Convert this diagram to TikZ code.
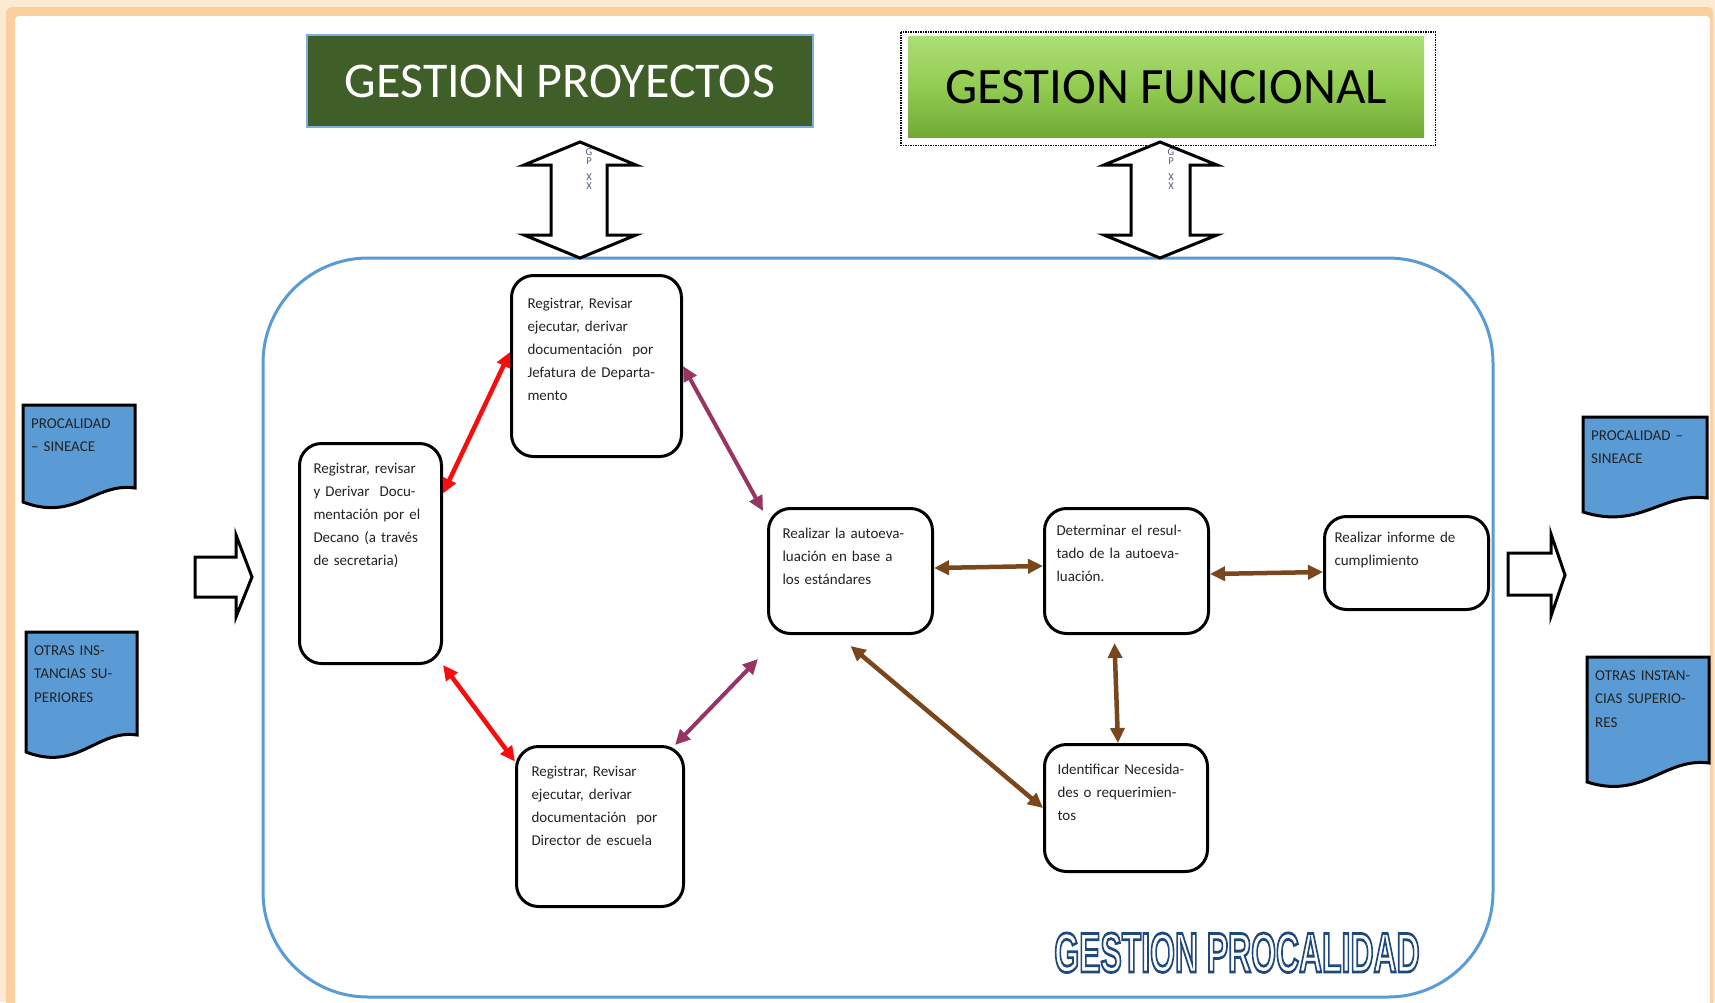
\documentclass[tikz,border=0pt]{standalone}
\usepackage{fontspec}
\setmainfont{Carlito}
\newfontfamily\outfont{Liberation Sans}
\usetikzlibrary{arrows.meta,positioning,calc}

\definecolor{framelight}{RGB}{253,234,210}
\definecolor{frameorange}{RGB}{251,207,158}
\definecolor{proygreen}{RGB}{63,94,40}
\definecolor{funcgreen}{RGB}{146,204,82}
\definecolor{funcdark}{RGB}{112,170,52}
\definecolor{funclight}{RGB}{172,222,118}
\definecolor{docblue}{RGB}{91,155,213}
\definecolor{edgeblue}{RGB}{91,155,213}
\definecolor{navy}{RGB}{31,73,125}
\definecolor{linkred}{RGB}{250,12,12}
\definecolor{linkpurple}{RGB}{150,52,100}
\definecolor{linkbrown}{RGB}{122,70,28}
\definecolor{inktext}{RGB}{35,35,35}

\begin{document}
\begin{tikzpicture}[x=1pt, y=-1pt, >={Triangle[length=15pt,width=14pt]},
  box/.style={draw, line width=3pt, rounded corners=22pt, fill=white, anchor=north west, align=left, text=inktext, inner ysep=10pt, font=\fontsize{15}{23}\selectfont},
  docshape/.style={draw, line width=3pt, fill=docblue},
  doctext/.style={anchor=base west, inner sep=0pt, align=left, text width=120pt, text=inktext, font=\fontsize{15}{23.5}\selectfont},
  bigarrow/.style={draw, line width=3pt, fill=white},
  gptag/.style={anchor=north, inner sep=0pt, align=center, text={rgb,255:red,80;green,90;blue,125}, font=\fontsize{10.5}{9}\selectfont},
  flow/.style={<->, line width=4.5pt},
  procaltext/.style={anchor=base, inner sep=0pt, text=white, font=\outfont\bfseries\fontsize{56}{56}\selectfont}]
\useasboundingbox (0,0) rectangle (1715,1002);
\clip (0,0) rectangle (1715,1002);
% marco
\fill[framelight] (0,0) rectangle (1715,1002);
\fill[frameorange, rounded corners=6pt] (6,7) rectangle (1713,1030);
\fill[white, rounded corners=4pt] (15,16) rectangle (1710,1030);

% cabeceras
\node[draw=edgeblue!80, line width=2pt, fill=proygreen, text=white, minimum width=506pt, minimum height=92pt, anchor=north west, font=\fontsize{50}{50}\selectfont] (gproy) at (306,34) {GESTION PROYECTOS};
\node[anchor=north west, minimum width=516pt, minimum height=101pt, inner sep=0pt, top color=funclight, bottom color=funcdark, middle color=funcgreen, font=\fontsize{51}{51}\selectfont] (gfunc) at (908,36) {GESTION FUNCIONAL};
\draw[densely dotted, line width=1.5pt] ([shift={(-7pt,4pt)}]gfunc.north west) rectangle ([shift={(11pt,-8pt)}]gfunc.south east);

% contenedor
\draw[edgeblue, line width=3pt, rounded corners=105pt] (263,258) rectangle (1493,997);

% flechas dobles
\draw[bigarrow] (580,142) -- (636,165) -- (607,165) -- (607,235) -- (636,235) -- (580,258) -- (524,235) -- (551,235) -- (551,165) -- (524,165) -- cycle;
\draw[bigarrow] (1160,142) -- (1217,165) -- (1190,165) -- (1190,235) -- (1217,235) -- (1160,258) -- (1104,235) -- (1131,235) -- (1131,165) -- (1104,165) -- cycle;
\node[gptag] (tagp) at (589,148) {G\\P\\[7pt]X\\X};
\node[gptag] (tagf) at (1171,148) {G\\P\\[7pt]X\\X};

% documentos
\draw[docshape] (23,405) -- (135,405) -- (135,488) .. controls (95,482) and (75,522) .. (23,502) -- cycle;
\node[doctext] (sineace1) at (31,428) {PROCALIDAD\\– SINEACE};
\draw[docshape] (26,632) -- (137,632) -- (137,735) .. controls (97,729) and (78,772) .. (26,752) -- cycle;
\node[doctext] (otras1) at (34,655) {OTRAS INS-\\TANCIAS SU-\\PERIORES};
\draw[docshape] (1583,417) -- (1707,417) -- (1707,498) .. controls (1662,492) and (1640,530) .. (1583,512) -- cycle;
\node[doctext] (sineace2) at (1591,440) {PROCALIDAD –\\SINEACE};
\draw[docshape] (1587,657) -- (1709,657) -- (1709,763) .. controls (1665,757) and (1643,800) .. (1587,782) -- cycle;
\node[doctext] (otras2) at (1595,680) {OTRAS INSTAN-\\CIAS SUPERIO-\\RES};

% entrada y salida
\draw[bigarrow] (195,557) -- (236,557) -- (236,535) -- (252,577) -- (236,617) -- (236,597) -- (195,597) -- cycle;
\draw[bigarrow] (1508,553) -- (1551,553) -- (1551,534) -- (1565,575) -- (1551,616) -- (1551,595) -- (1508,595) -- cycle;

% procesos
\node[box, text width=138pt, inner xsep=16pt, text height=23pt, text depth=138pt] (jefe) at (510,274) {Registrar, Revisar\\ejecutar, derivar\\documentación\ \ por\\Jefatura de Departa-\\mento};
\node[box, text width=114pt, inner xsep=14pt, text height=20pt, text depth=180pt] (decano) at (298,442) {Registrar, revisar\\y Derivar\ \ Docu-\\mentación por el\\Decano (a través\\de secretaria)};
\node[box, text width=137pt, inner xsep=15pt, text height=20pt, text depth=120pt] (director) at (515,745) {Registrar, Revisar\\ejecutar, derivar\\documentación\ \ por\\Director de escuela};
\node[box, text width=136pt, inner xsep=14pt, text height=20pt, text depth=85pt] (autoeval) at (767,507) {Realizar la autoeva-\\luación en base a\\los estándares};
\node[box, text width=140pt, inner xsep=12pt, text height=17pt, text depth=88pt] (determ) at (1043,507) {Determinar el resul-\\tado de la autoeva-\\luación.};
\node[box, text width=144pt, inner xsep=10pt, text height=16pt, text depth=57pt] (informe) at (1323,515) {Realizar informe de\\cumplimiento};
\node[box, text width=137pt, inner xsep=13pt, text height=20pt, text depth=87pt] (ident) at (1043,743) {Identificar Necesida-\\des o requerimien-\\tos};

% conexiones
\draw[flow, linkred] ([yshift=60pt]decano.east) -- ([yshift=14pt]jefe.west);
\draw[flow, linkred] (decano.south east) -- ([yshift=65pt]director.west);
\draw[flow, linkpurple, line width=4pt] (jefe.east) -- ([shift={(-4pt,-4pt)}]autoeval.north west);
\draw[flow, linkpurple, line width=4pt] ([xshift=-10pt]director.north east) -- ([shift={(-9pt,-24pt)}]autoeval.south west);
\draw[flow, linkbrown] ([yshift=3pt]autoeval.east) -- ([yshift=5pt]determ.west);
\draw[flow, linkbrown] ([yshift=-3pt]determ.east) -- ([yshift=-9pt]informe.west);
\draw[flow, linkbrown] ([shift={(-12pt,-8pt)}]determ.south) -- ([xshift=-8pt]ident.north);
\draw[flow, linkbrown] ([yshift=-11pt]autoeval.south) -- (ident.west);

% rotulo (texto con contorno)
\node[procaltext] (procal) at (1237,972) {\special{pdf:literal direct 2 Tr 2.8 w 0.122 0.286 0.490 RG}\scalebox{0.57}[1]{GESTION PROCALIDAD}\special{pdf:literal direct 0 Tr}};
\end{tikzpicture}
\end{document}
